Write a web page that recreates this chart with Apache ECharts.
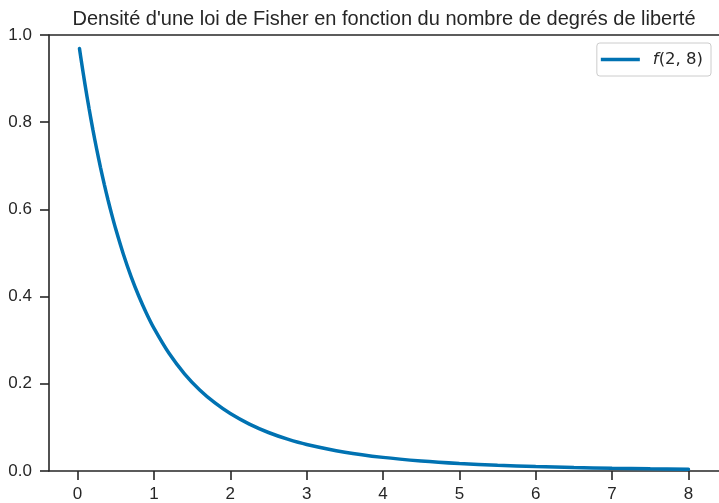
<!DOCTYPE html>
<html>
<head>
<meta charset="utf-8">
<script src="https://cdn.jsdelivr.net/npm/echarts@6/dist/echarts.min.js"></script>
<style>
  html, body { margin: 0; padding: 0; background: #fff; }
  #chart { width: 719px; height: 503px; }
</style>
</head>
<body>
<div id="chart"></div>
<script>
// Density of the F(2, 8) distribution, sampled along x
const xValues = [0.025, 0.05, 0.1, 0.15, 0.2, 0.25, 0.3, 0.35, 0.4, 0.45, 0.5, 0.6, 0.7, 0.8, 0.9,
  1.0, 1.2, 1.4, 1.6, 1.8, 2.0, 2.25, 2.5, 2.75, 3.0, 3.5, 4.0, 4.5, 5.0, 5.5, 6.0, 6.5, 7.0, 7.5, 8.0];
const densityValues = [0.969, 0.9398, 0.8839, 0.8319, 0.7835, 0.7385, 0.6966, 0.6574, 0.6209, 0.5868,
  0.5549, 0.4972, 0.4465, 0.4019, 0.3625, 0.3277, 0.2693, 0.2230, 0.1859, 0.1560, 0.1317, 0.1074,
  0.0883, 0.0731, 0.0609, 0.0432, 0.03125, 0.0231, 0.01734, 0.01323, 0.01024, 0.00802, 0.00636,
  0.00509, 0.00412];
const xTicks = [0, 1, 2, 3, 4, 5, 6, 7, 8];
const yTicks = [0, 0.2, 0.4, 0.6, 0.8, 1.0];
const seriesName = 'f(2, 8)';
const titleText = "Densité d'une loi de Fisher en fonction du nombre de degrés de liberté";

const points = xValues.map((x, i) => [x, densityValues[i]]);
const ink = '#262626';
const axisFont = 'Liberation Sans';

const chart = echarts.init(document.getElementById('chart'), null, { renderer: 'canvas' });
chart.setOption({
  animation: false,
  backgroundColor: '#ffffff',
  title: {
    text: titleText,
    left: 379, top: 4, textAlign: 'center',
    textStyle: { fontFamily: axisFont, fontSize: 20, fontWeight: 'normal', color: ink }
  },
  legend: {
    right: 8, top: 43,
    data: [seriesName],
    itemWidth: 39, itemHeight: 3.5, itemGap: 10,
    padding: [8, 8, 8, 4],
    borderColor: '#cccccc', borderWidth: 1, borderRadius: 3,
    icon: 'rect',
    textStyle: { fontFamily: 'DejaVu Sans', fontSize: 16.5, color: ink,
      rich: {
        it: { fontStyle: 'italic', fontFamily: 'DejaVu Sans', fontSize: 16.5, color: ink, padding: [0, 0, 0, 8] },
        rm: { fontFamily: 'DejaVu Sans', fontSize: 16.5, color: ink }
      } },
    formatter: function (name) { return '{it|f}{rm|' + name.slice(1) + '}'; }
  },
  grid: { left: 49, top: 35, right: -3, bottom: 32, containLabel: false },
  xAxis: {
    type: 'value',
    min: -0.374, max: 8.4,
    axisLine: { show: true, onZero: false, lineStyle: { color: ink, width: 1.6 } },
    axisTick: { show: true, length: 9, customValues: xTicks, lineStyle: { color: ink, width: 1.6 } },
    axisLabel: { customValues: xTicks, margin: 15, fontFamily: axisFont, fontSize: 17, color: ink },
    splitLine: { show: false }
  },
  yAxis: {
    type: 'value',
    min: 0, max: 1,
    axisLine: { show: true, onZero: false, lineStyle: { color: ink, width: 1.6 } },
    axisTick: { show: true, length: 9, customValues: yTicks, lineStyle: { color: ink, width: 1.6 } },
    axisLabel: { customValues: yTicks, margin: 17, fontFamily: axisFont, fontSize: 17, color: ink,
      formatter: v => v.toFixed(1) },
    splitLine: { show: false }
  },
  series: [{
    name: seriesName,
    type: 'line',
    data: points,
    smooth: 0.3,
    showSymbol: false,
    color: '#0072B2',
    lineStyle: { width: 3.5, color: '#0072B2', cap: 'round' }
  }],
  graphic: [{
    // top frame line of the axes box
    type: 'line',
    shape: { x1: 49, y1: 35, x2: 719, y2: 35 },
    style: { stroke: ink, lineWidth: 1.6 }
  }]
});
</script>
</body>
</html>
